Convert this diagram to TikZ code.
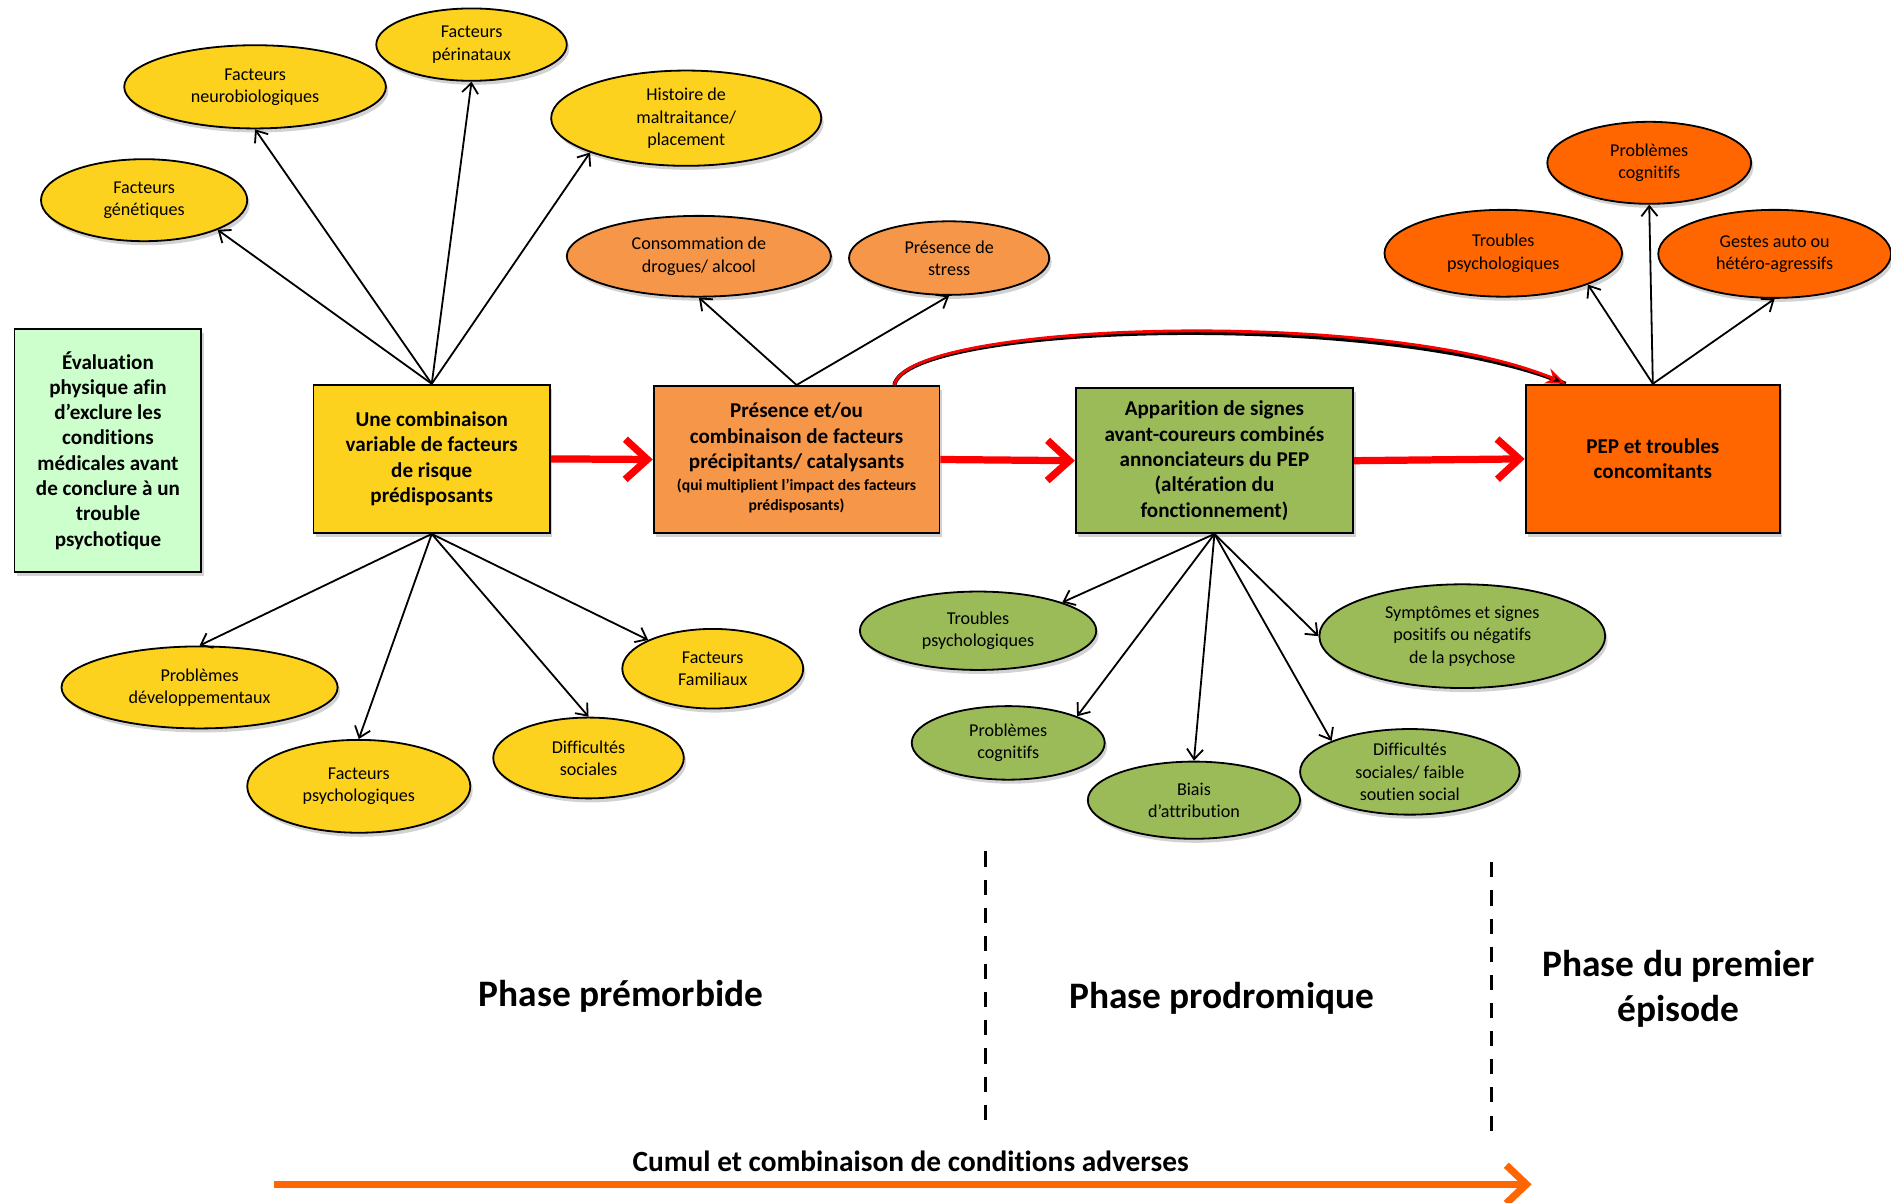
\documentclass[tikz,border=0pt]{standalone}
\usepackage{fontspec}
\setmainfont{Carlito}[Ligatures=NoCommon]
\usetikzlibrary{shapes.geometric,arrows.meta,shadows,calc}
\definecolor{cyellow}{RGB}{253,210,30}
\definecolor{clorange}{RGB}{246,150,72}
\definecolor{cdorange}{RGB}{255,102,0}
\definecolor{cgreen}{RGB}{155,187,89}
\definecolor{clgreen}{RGB}{204,255,204}
\definecolor{cred}{RGB}{255,0,0}
\begin{document}
\begin{tikzpicture}[x=0.6pt,y=-0.6pt,
  shad/.style={drop shadow={shadow xshift=1.2pt,shadow yshift=-2pt,opacity=0.25,fill=black!70}},
  ell/.style={ellipse,draw=black,line width=0.9pt,inner sep=-4pt,align=center,font=\fontsize{9}{11}\selectfont,shad},
  bx/.style={rectangle,draw=black,line width=0.9pt,inner sep=2pt,align=center,font=\bfseries\fontsize{10.5}{12.6}\selectfont,shad},
  arr/.style={-{Straight Barb[length=5pt,width=8pt]},line width=0.9pt},
  bigarr/.style={-{Straight Barb[length=11pt,width=20pt]},line width=3.6pt,draw=cred},
  phase/.style={font=\bfseries\fontsize{18.6}{22}\selectfont,align=center}]

\useasboundingbox (0,0) rectangle (1568,997);

% boxes
\node[bx,fill=clgreen,minimum width=93pt,minimum height=120.6pt] (ev) at (89.5,373.5)
  {Évaluation\\physique afin\\d’exclure les\\conditions\\médicales avant\\de conclure à un\\trouble\\psychotique};
\node[bx,fill=cyellow,minimum width=117.6pt,minimum height=73.8pt] (b1) at (358,380.5)
  {Une combinaison\\variable de facteurs\\de risque\\prédisposants};
\node[bx,fill=clorange,minimum width=142.2pt,minimum height=73.2pt] (b2) at (660.5,381)
  {Présence et/ou\\combinaison de facteurs\\précipitants/ catalysants\\[-1.5pt]{\fontsize{7.8}{9.6}\selectfont\begin{tabular}[t]{@{}c@{}}(qui multiplient l’impact des facteurs\\prédisposants)\end{tabular}}};
\node[bx,fill=cgreen,minimum width=138pt,minimum height=72pt] (b3) at (1007,382)
  {Apparition de signes\\avant-coureurs combinés\\annonciateurs du PEP\\(altération du\\fonctionnement)};
\node[bx,fill=cdorange,minimum width=126.6pt,minimum height=73.8pt] (b4) at (1370.5,380.5)
  {PEP et troubles\\concomitants};

% yellow ellipses
\node[ell,fill=cyellow,minimum width=102.6pt,minimum height=40.8pt] (gen) at (119.5,166) {Facteurs\\génétiques};
\node[ell,fill=cyellow,minimum width=130.2pt,minimum height=41.4pt] (neu) at (211.5,72) {Facteurs\\neurobiologiques};
\node[ell,fill=cyellow,minimum width=94.8pt,minimum height=36pt] (per) at (391,37) {Facteurs\\périnataux};
\node[ell,fill=cyellow,minimum width=134.4pt,minimum height=47.4pt] (his) at (569,98) {Histoire de\\maltraitance/\\placement};
\node[ell,fill=cyellow,minimum width=137.4pt,minimum height=40.8pt] (dev) at (165.5,570) {Problèmes\\développementaux};
\node[ell,fill=cyellow,minimum width=111pt,minimum height=46.2pt] (psy) at (297.5,652) {Facteurs\\psychologiques};
\node[ell,fill=cyellow,minimum width=94.8pt,minimum height=40.2pt] (soc) at (488,628.5) {Difficultés\\sociales};
\node[ell,fill=cyellow,minimum width=90pt,minimum height=39.6pt] (fam) at (591,554.5) {Facteurs\\Familiaux};

% light orange ellipses
\node[ell,fill=clorange,minimum width=131.4pt,minimum height=40.2pt] (dro) at (579.5,212.5) {Consommation de\\drogues/ alcool};
\node[ell,fill=clorange,minimum width=99.6pt,minimum height=36.6pt] (str) at (787,214) {Présence de\\stress};

% dark orange ellipses
\node[ell,fill=cdorange,minimum width=101.4pt,minimum height=40.8pt] (rcog) at (1367.5,135) {Problèmes\\cognitifs};
\node[ell,fill=cdorange,minimum width=118.2pt,minimum height=43.2pt] (rpsy) at (1246.5,210) {Troubles\\psychologiques};
\node[ell,fill=cdorange,minimum width=115.8pt,minimum height=43.8pt] (rges) at (1471.5,210.5) {Gestes auto ou\\hétéro-agressifs};

% green ellipses
\node[ell,fill=cgreen,minimum width=117.6pt,minimum height=39pt] (gpsy) at (811,523) {Troubles\\psychologiques};
\node[ell,fill=cgreen,minimum width=142.2pt,minimum height=51.6pt] (gsym) at (1212.5,527.5) {Symptômes et signes\\positifs ou négatifs\\de la psychose};
\node[ell,fill=cgreen,minimum width=96pt,minimum height=36.6pt] (gcog) at (836,616) {Problèmes\\cognitifs};
\node[ell,fill=cgreen,minimum width=105.6pt,minimum height=38.4pt] (gbia) at (990,663.5) {Biais\\d’attribution};
\node[ell,fill=cgreen,minimum width=109.2pt,minimum height=42.6pt] (gdif) at (1169,640) {Difficultés\\sociales/ faible\\soutien social};

% black arrows
\draw[arr] (b1.north) -- (gen.south east);
\draw[arr] (b1.north) -- (neu.south);
\draw[arr] (b1.north) -- (per.south);
\draw[arr] (b1.north) -- (his.south west);
\draw[arr] (b1.south) -- (dev.north);
\draw[arr] (b1.south) -- (psy.north);
\draw[arr] (b1.south) -- (soc.north);
\draw[arr] (b1.south) -- (fam.north west);
\draw[arr] (b2.north) -- (dro.south);
\draw[arr] (b2.north) -- (str.south);
\draw[arr] (b3.south) -- (gpsy.north east);
\draw[arr] (b3.south) -- (gcog.north east);
\draw[arr] (b3.south) -- (gbia.north);
\draw[arr] (b3.south) -- (gdif.north west);
\draw[arr] (b3.south) -- (gsym.west);
\draw[arr] (b4.north) -- (rpsy.south east);
\draw[arr] (b4.north) -- (rcog.south);
\draw[arr] (b4.north) -- (rges.south);

% red arrows
\draw[bigarr] (b1.east) -- (b2.west);
\draw[bigarr] (b2.east) -- (b3.west);
\draw[bigarr] (b3.east) -- (b4.west);

% curved arrow
\coordinate (cs) at ($(b2.north west)!0.84!(b2.north east)$);
\coordinate (ce) at ($(b4.north west)!0.16!(b4.north east)$);
\draw[black,line width=2pt,yshift=-0.9pt] (cs) .. controls (752,266) and (1150,255) .. (ce);
\draw[cred,line width=1.4pt,-{Stealth[length=10pt,width=8pt,fill=black,line width=1pt]}] (cs) .. controls (752,266) and (1150,255) .. (ce);

% dashed separators
\coordinate (d1a) at (817,706);
\coordinate (d1b) at (817,930);
\coordinate (d2a) at (1237,715);
\coordinate (d2b) at (1237,940);
\draw[line width=1.4pt,dash pattern=on 7.5pt off 6.5pt] (d1a) -- (d1b);
\draw[line width=1.4pt,dash pattern=on 7.5pt off 6.5pt] (d2a) -- (d2b);

% phase labels
\node[phase] (p1) at (515,826) {Phase prémorbide};
\node[phase] (p2) at (1013,828) {Phase prodromique};
\node[phase] (p3) at (1392,820) {Phase du premier\\épisode};
\node[font=\bfseries\fontsize{14.6}{17}\selectfont] (cum) at (755,963) {Cumul et combinaison de conditions adverses};

% time arrow
\coordinate (ta) at (227,982);
\coordinate (tb) at (1270,982);
\draw[-{Straight Barb[length=10pt,width=19pt]},line width=3.6pt,draw=cdorange] (ta) -- (tb);
\end{tikzpicture}
\end{document}
